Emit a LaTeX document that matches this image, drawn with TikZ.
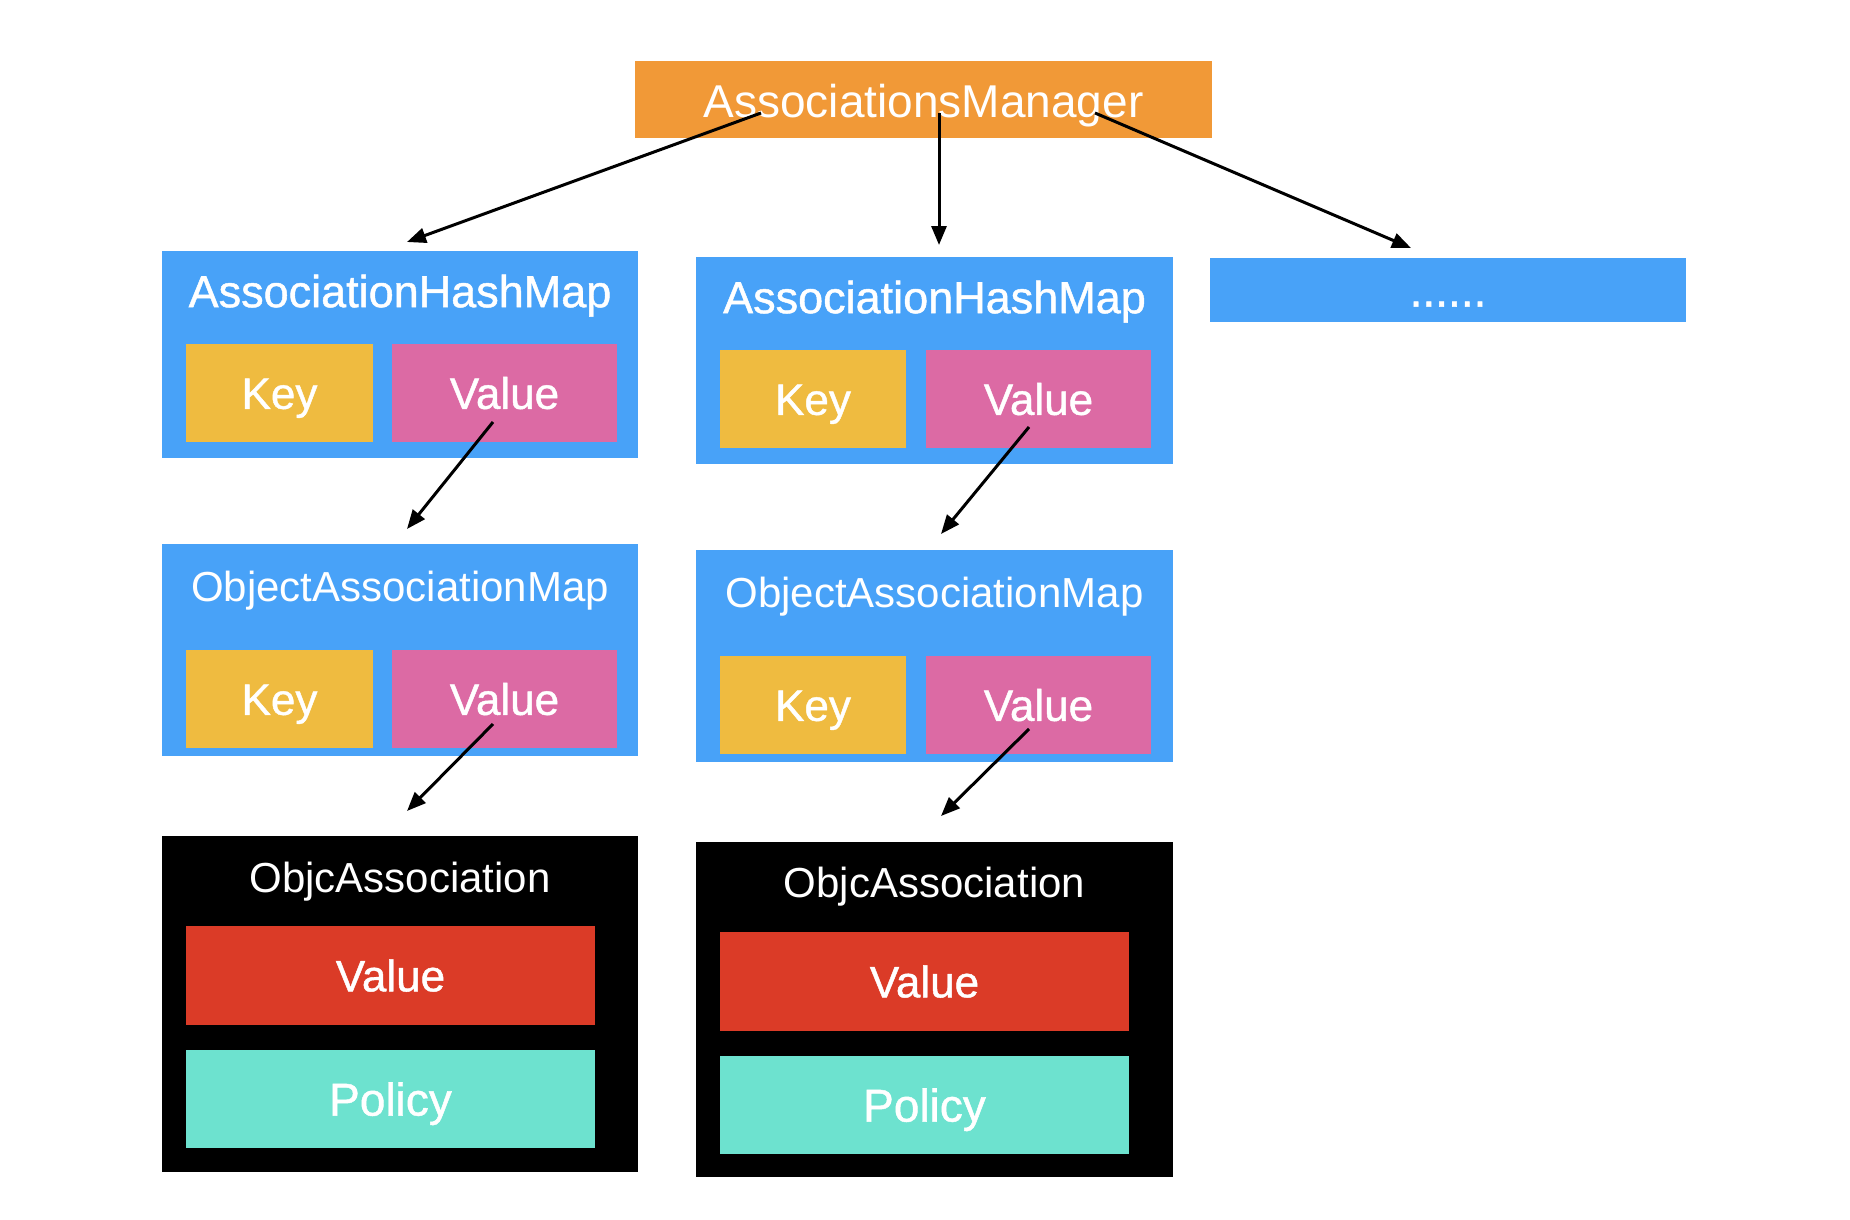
\documentclass[tikz,border=0pt]{standalone}
\usepackage{fontspec}
\setmainfont{Liberation Sans}
\newfontfamily\medfont[FakeBold=1]{Liberation Sans}
\usepackage{xcolor}
\usepackage{tikz}
\usetikzlibrary{
	arrows.meta
}

\definecolor{mgrorange}{HTML}{F19937}
\definecolor{mapblue}{HTML}{48A2F8}
\definecolor{keyyellow}{HTML}{EFBB40}
\definecolor{valpink}{HTML}{DC6AA4}
\definecolor{objred}{HTML}{DB3B27}
\definecolor{policyteal}{HTML}{6DE2CF}

\begin{document}
\begin{tikzpicture}[x=1pt,y=-1pt,
		box/.style={inner sep=0pt,outer sep=0pt},
		txt/.code={\pgfmathsetmacro\txtht{0.72*#1}%
			\tikzset{text=white,inner sep=0pt,text height=\txtht pt,text depth=0pt,
				font=\fontsize{#1}{#1}\selectfont}},
		txt/.default=44,
		med/.style={font=\fontsize{#1}{#1}\medfont},
		med/.default=44,
		link/.style={line width=3pt,-{Triangle[length=19pt,width=15pt]}}]
		\useasboundingbox (0,0) rectangle (1850,1220);

		% manager
		\node[box,fill=mgrorange,minimum width=577,minimum height=77] (mgr) at (923.5,99.5) {};
		\node[txt=46] (mgrt) at (923.5,101) {AssociationsManager};

		% left column
		\node[box,fill=mapblue,minimum width=476,minimum height=207] (hm1) at (400,354.5) {};
		\node[txt=45,med=45] (hm1t) at (400,291) {AssociationHashMap};
		\node[box,fill=keyyellow,minimum width=187,minimum height=98,txt,med] (key1) at (279.5,393) {Key};
		\node[box,fill=valpink,minimum width=225,minimum height=98,txt,med] (val1) at (504.5,393) {Value};

		\node[box,fill=mapblue,minimum width=476,minimum height=212] (ob1) at (400,650) {};
		\node[txt=42] (ob1t) at (400,586) {ObjectAssociationMap};
		\node[box,fill=keyyellow,minimum width=187,minimum height=98,txt,med] (okey1) at (279.5,699) {Key};
		\node[box,fill=valpink,minimum width=225,minimum height=98,txt,med] (oval1) at (504.5,699) {Value};

		\node[box,fill=black,minimum width=476,minimum height=336] (oa1) at (400,1004) {};
		\node[txt=42] (oa1t) at (400,877) {ObjcAssociation};
		\node[box,fill=objred,minimum width=409,minimum height=99,txt,med] (ov1) at (390.5,975.5) {Value};
		\node[box,fill=policyteal,minimum width=409,minimum height=98,txt=46,med=46] (op1) at (390.5,1099) {Policy};

		% middle column
		\node[box,fill=mapblue,minimum width=477,minimum height=207] (hm2) at (934.5,360.5) {};
		\node[txt=45,med=45] (hm2t) at (934.5,297) {AssociationHashMap};
		\node[box,fill=keyyellow,minimum width=186,minimum height=98,txt,med] (key2) at (813,399) {Key};
		\node[box,fill=valpink,minimum width=225,minimum height=98,txt,med] (val2) at (1038.5,399) {Value};

		\node[box,fill=mapblue,minimum width=477,minimum height=212] (ob2) at (934.5,656) {};
		\node[txt=42] (ob2t) at (934.5,592) {ObjectAssociationMap};
		\node[box,fill=keyyellow,minimum width=186,minimum height=98,txt,med] (okey2) at (813,705) {Key};
		\node[box,fill=valpink,minimum width=225,minimum height=98,txt,med] (oval2) at (1038.5,705) {Value};

		\node[box,fill=black,minimum width=477,minimum height=335] (oa2) at (934.5,1009.5) {};
		\node[txt=42] (oa2t) at (934.5,882) {ObjcAssociation};
		\node[box,fill=objred,minimum width=409,minimum height=99,txt,med] (ov2) at (924.5,981.5) {Value};
		\node[box,fill=policyteal,minimum width=409,minimum height=98,txt=46,med=46] (op2) at (924.5,1105) {Policy};

		% the rest
		\node[box,fill=mapblue,minimum width=476,minimum height=64,txt=46,med=46] (more) at (1448,290) {......};

		\draw[link] ([shift={(-162.5,13.5)}]mgr.center) -- ([shift={(7,-9)}]hm1.north);
		\draw[link] ([shift={(15.5,13.5)}]mgr.center) -- ([shift={(4.5,-12)}]hm2.north);
		\draw[link] ([shift={(171.5,13.5)}]mgr.center) -- ([shift={(-37,-10)}]more.north);

		\draw[link] ([shift={(-11.5,29)}]val1.center) -- ([shift={(7,-15)}]ob1.north);
		\draw[link] ([shift={(-11.5,25)}]oval1.center) -- ([shift={(7,-25)}]oa1.north);
		\draw[link] ([shift={(-9.5,28)}]val2.center) -- ([shift={(6.5,-16)}]ob2.north);
		\draw[link] ([shift={(-9.5,24)}]oval2.center) -- ([shift={(6.5,-26)}]oa2.north);
	\end{tikzpicture}
\end{document}
